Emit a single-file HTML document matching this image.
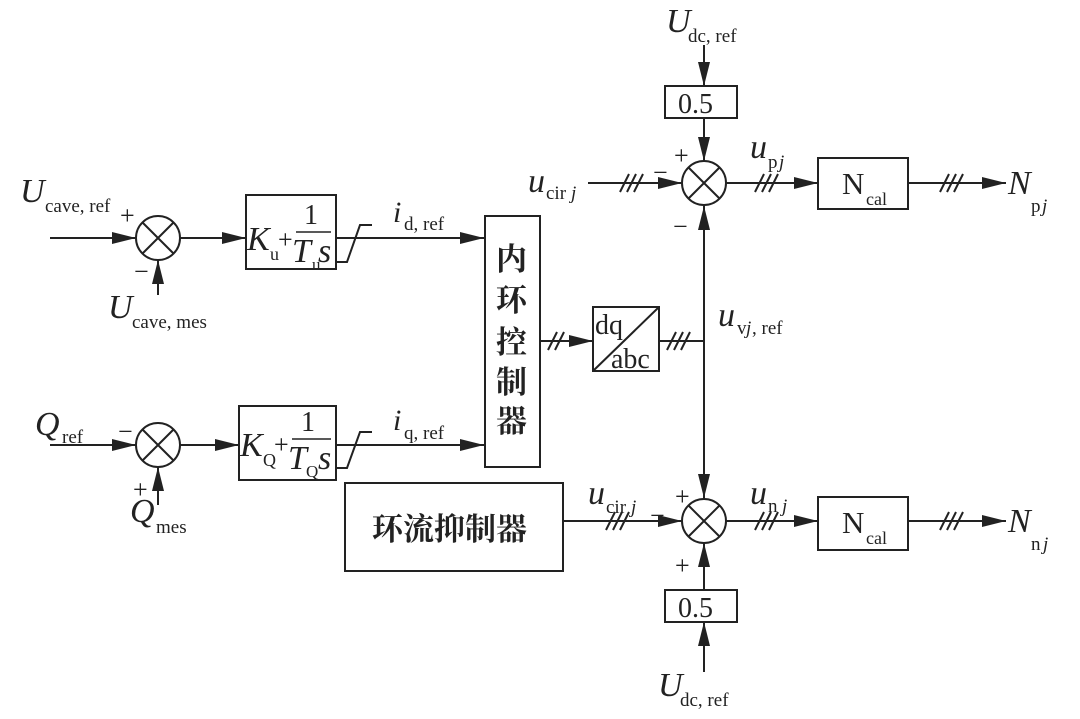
<!DOCTYPE html>
<html><head><meta charset="utf-8"><style>
html,body{margin:0;padding:0;background:#fff;}
svg{display:block;}
text{font-family:"Liberation Serif","Noto Serif CJK SC",serif;fill:#222;}
.i{font-style:italic;}
.cn{font-family:"Noto Serif CJK SC","Noto Sans CJK SC",serif;font-weight:bold;}
</style></head><body>
<svg width="1080" height="719" viewBox="0 0 1080 719" xmlns="http://www.w3.org/2000/svg">
<defs>
<marker id="b" markerWidth="24" markerHeight="12" refX="24" refY="6" orient="auto" markerUnits="userSpaceOnUse" viewBox="0 0 24 12">
<path d="M0,0 L24,6 L0,12 z" fill="#222"/></marker>
</defs>
<g stroke="#222" stroke-width="2" fill="none">
<circle cx="158" cy="238" r="22"/><path d="M142,222 L174,254 M174,222 L142,254"/>
<circle cx="158" cy="445" r="22"/><path d="M142,429 L174,461 M174,429 L142,461"/>
<circle cx="704" cy="183" r="22"/><path d="M688,167 L720,199 M720,167 L688,199"/>
<circle cx="704" cy="521" r="22"/><path d="M688,505 L720,537 M720,505 L688,537"/>
<rect x="246" y="195" width="90" height="74"/>
<rect x="239" y="406" width="97" height="74"/>
<rect x="485" y="216" width="55" height="251"/>
<rect x="593" y="307" width="66" height="64"/><path d="M593,371 L659,307"/>
<rect x="345" y="483" width="218" height="88"/>
<rect x="665" y="86" width="72" height="32"/>
<rect x="665" y="590" width="72" height="32"/>
<rect x="818" y="158" width="90" height="51"/>
<rect x="818" y="497" width="90" height="53"/>
<path d="M50,238 L136,238" marker-end="url(#b)"/>
<path d="M158,295 L158,260" marker-end="url(#b)"/>
<path d="M180,238 L246,238" marker-end="url(#b)"/>
<path d="M336,238 L360,238 M336,262 L347,262 L360,225 L372,225 M360,238 L484,238" />
<path d="M450,238 L484,238" marker-end="url(#b)"/>
<path d="M50,445 L136,445" marker-end="url(#b)"/>
<path d="M158,505 L158,467" marker-end="url(#b)"/>
<path d="M180,445 L239,445" marker-end="url(#b)"/>
<path d="M336,445 L484,445 M336,468 L347,468 L360,432 L372,432"/>
<path d="M450,445 L484,445" marker-end="url(#b)"/>
<path d="M540,341 L593,341" marker-end="url(#b)"/>
<path d="M548,350 L557,332 M555,350 L564,332"/>
<path d="M659,341 L704,341"/>
<path d="M667,350 L676,332 M674,350 L683,332 M681,350 L690,332"/>
<path d="M704,499 L704,205"/>
<path d="M704,343 L704,206" marker-end="url(#b)"/>
<path d="M704,343 L704,498" marker-end="url(#b)"/>
<path d="M704,45 L704,86" marker-end="url(#b)"/>
<path d="M704,118 L704,161" marker-end="url(#b)"/>
<path d="M588,183 L682,183" marker-end="url(#b)"/>
<path d="M620,192 L629,174 M627,192 L636,174 M634,192 L643,174"/>
<path d="M726,183 L818,183" marker-end="url(#b)"/>
<path d="M755,192 L764,174 M762,192 L771,174 M769,192 L778,174"/>
<path d="M908,183 L1006,183" marker-end="url(#b)"/>
<path d="M940,192 L949,174 M947,192 L956,174 M954,192 L963,174"/>
<path d="M563,521 L682,521" marker-end="url(#b)"/>
<path d="M606,530 L615,512 M613,530 L622,512 M620,530 L629,512"/>
<path d="M726,521 L818,521" marker-end="url(#b)"/>
<path d="M755,530 L764,512 M762,530 L771,512 M769,530 L778,512"/>
<path d="M908,521 L1006,521" marker-end="url(#b)"/>
<path d="M940,530 L949,512 M947,530 L956,512 M954,530 L963,512"/>
<path d="M704,590 L704,543" marker-end="url(#b)"/>
<path d="M704,672 L704,622" marker-end="url(#b)"/>
</g>
<text x="20" y="202" font-size="34" class="i">U</text><text x="45" y="212" font-size="19">cave, ref</text>
<text x="120" y="224" font-size="26">+</text>
<text x="134" y="280" font-size="26">−</text>
<text x="108" y="318" font-size="34" class="i">U</text><text x="132" y="328" font-size="19">cave, mes</text>
<text x="247" y="250" font-size="34" class="i">K</text><text x="270" y="260" font-size="18">u</text>
<text x="278" y="248" font-size="26">+</text>
<text x="304" y="224" font-size="28">1</text>
<path d="M296,232 L331,232" stroke="#222" stroke-width="1.5"/>
<text x="292" y="262" font-size="34" class="i">T</text><text x="312" y="270" font-size="17">u</text><text x="318" y="262" font-size="34" class="i">s</text>
<text x="393" y="222" font-size="30" class="i">i</text><text x="404" y="230" font-size="19">d, ref</text>

<text x="35" y="435" font-size="34" class="i">Q</text><text x="62" y="443" font-size="19">ref</text>
<text x="118" y="440" font-size="26">−</text>
<text x="133" y="498" font-size="26">+</text>
<text x="130" y="522" font-size="34" class="i">Q</text><text x="156" y="533" font-size="19">mes</text>
<text x="240" y="456" font-size="34" class="i">K</text><text x="263" y="466" font-size="18">Q</text>
<text x="274" y="453" font-size="26">+</text>
<text x="301" y="431" font-size="28">1</text>
<path d="M292,439 L331,439" stroke="#222" stroke-width="1.5"/>
<text x="288" y="469" font-size="34" class="i">T</text><text x="306" y="477" font-size="17">Q</text><text x="318" y="469" font-size="34" class="i">s</text>
<text x="393" y="430" font-size="30" class="i">i</text><text x="404" y="439" font-size="19">q, ref</text>

<text x="496" y="270" font-size="31" class="cn">内</text>
<text x="496" y="311" font-size="31" class="cn">环</text>
<text x="496" y="353" font-size="31" class="cn">控</text>
<text x="496" y="393" font-size="31" class="cn">制</text>
<text x="496" y="432" font-size="31" class="cn">器</text>
<text x="372" y="540" font-size="31" class="cn">环流抑制器</text>

<text x="595" y="334" font-size="28">dq</text>
<text x="611" y="368" font-size="28">abc</text>

<text x="666" y="32" font-size="34" class="i">U</text><text x="688" y="42" font-size="19">dc, ref</text>
<text x="678" y="113" font-size="28">0.5</text>
<text x="674" y="164" font-size="26">+</text>
<text x="653" y="181" font-size="26">−</text>
<text x="673" y="235" font-size="26">−</text>
<text x="528" y="192" font-size="34" class="i">u</text><text x="546" y="199" font-size="19">cir</text><text x="571" y="199" font-size="19" class="i">j</text>
<text x="750" y="158" font-size="34" class="i">u</text><text x="768" y="168" font-size="19">p</text><text x="779" y="168" font-size="19" class="i">j</text>
<text x="842" y="194" font-size="31">N</text><text x="866" y="205" font-size="18">cal</text>
<text x="1008" y="194" font-size="34" class="i">N</text><text x="1031" y="212" font-size="19">p</text><text x="1042" y="212" font-size="19" class="i">j</text>
<text x="718" y="326" font-size="34" class="i">u</text><text x="737" y="334" font-size="19">v</text><text x="746" y="334" font-size="19" class="i">j</text><text x="752" y="334" font-size="19">, ref</text>

<text x="588" y="504" font-size="34" class="i">u</text><text x="606" y="513" font-size="19">cir</text><text x="631" y="513" font-size="19" class="i">j</text>
<text x="650" y="524" font-size="26">−</text>
<text x="675" y="505" font-size="26">+</text>
<text x="675" y="574" font-size="26">+</text>
<text x="750" y="504" font-size="34" class="i">u</text><text x="768" y="512" font-size="19">n</text><text x="782" y="512" font-size="19" class="i">j</text>
<text x="842" y="533" font-size="31">N</text><text x="866" y="544" font-size="18">cal</text>
<text x="1008" y="532" font-size="34" class="i">N</text><text x="1031" y="550" font-size="19">n</text><text x="1043" y="550" font-size="19" class="i">j</text>
<text x="678" y="617" font-size="28">0.5</text>
<text x="658" y="696" font-size="34" class="i">U</text><text x="680" y="706" font-size="19">dc, ref</text>
</svg>
</body></html>
